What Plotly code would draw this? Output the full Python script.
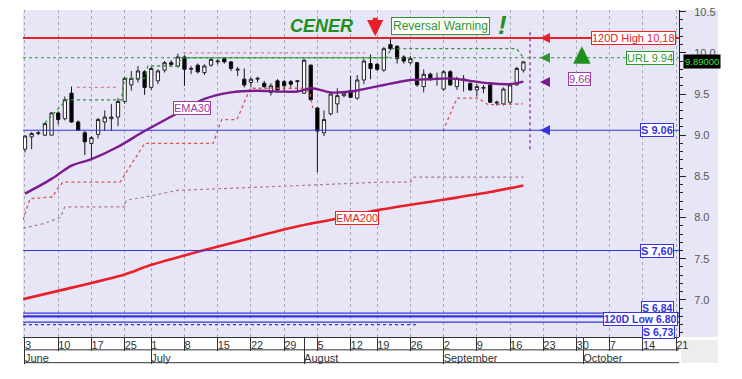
import plotly.graph_objects as go

# ---------------- data ----------------
idx = list(range(76))  # trading-day index, 0 = 3 June
opens = [8.83, 8.98, 9.02, 9.00, 9.00, 9.27, 9.20, 9.51, 9.16, 9.03,
         8.90, 9.01, 9.16, 9.20, 9.22, 9.41, 9.61, 9.68, 9.77, 9.58,
         9.66, 9.79, 9.88, 9.84, 9.95, 9.80, 9.85, 9.76, 9.85, 9.89,
         9.93, 9.89, 9.79, 9.68, 9.64, 9.68, 9.63, 9.52, 9.66, 9.65,
         9.65, 9.65, 9.51, 9.85, 9.33, 9.03, 9.26, 9.38, 9.48, 9.54,
         9.45, 9.67, 9.87, 9.86, 9.79, 10.10, 10.08, 9.95, 9.88, 9.88,
         9.59, 9.74, 9.68, 9.56, 9.77, 9.59, 9.67, 9.63, 9.55, 9.57,
         9.61, 9.39, 9.38, 9.40, 9.61, 9.79]
highs = [9.00, 9.04, 9.05, 9.15, 9.28, 9.29, 9.47, 9.59, 9.18, 9.05,
         8.99, 9.21, 9.30, 9.38, 9.45, 9.71, 9.78, 9.84, 9.79, 9.83,
         9.80, 9.90, 9.91, 9.99, 9.97, 9.84, 9.87, 9.86, 9.94, 9.92,
         9.95, 9.90, 9.83, 9.81, 9.70, 9.71, 9.66, 9.63, 9.68, 9.67,
         9.67, 9.67, 9.93, 9.86, 9.34, 9.30, 9.52, 9.57, 9.53, 9.72,
         9.73, 9.93, 9.98, 9.88, 10.07, 10.17, 10.09, 9.97, 9.96, 9.89,
         9.80, 9.76, 9.76, 9.79, 9.79, 9.71, 9.73, 9.64, 9.62, 9.61,
         9.62, 9.42, 9.58, 9.63, 9.83, 9.90]
lows = [8.79, 8.83, 9.00, 8.99, 9.00, 9.13, 9.18, 9.15, 9.05, 8.76,
        8.72, 8.96, 9.05, 9.05, 9.11, 9.38, 9.54, 9.64, 9.49, 9.55,
        9.62, 9.76, 9.83, 9.82, 9.60, 9.74, 9.75, 9.73, 9.83, 9.86,
        9.87, 9.78, 9.72, 9.58, 9.58, 9.64, 9.57, 9.48, 9.52, 9.53,
        9.58, 9.53, 9.50, 9.42, 8.55, 8.99, 9.24, 9.27, 9.46, 9.45,
        9.43, 9.62, 9.68, 9.78, 9.77, 10.03, 9.87, 9.87, 9.86, 9.59,
        9.52, 9.66, 9.60, 9.54, 9.60, 9.55, 9.53, 9.54, 9.47, 9.51,
        9.39, 9.36, 9.36, 9.37, 9.60, 9.76]
closes = [8.99, 9.02, 9.03, 9.14, 9.27, 9.19, 9.43, 9.16, 9.06, 8.92,
          8.97, 9.19, 9.22, 9.22, 9.41, 9.69, 9.69, 9.78, 9.58, 9.81,
          9.78, 9.88, 9.86, 9.95, 9.80, 9.81, 9.77, 9.84, 9.92, 9.90,
          9.89, 9.81, 9.80, 9.61, 9.68, 9.69, 9.59, 9.60, 9.55, 9.60,
          9.62, 9.66, 9.91, 9.43, 9.05, 9.19, 9.50, 9.48, 9.51, 9.46,
          9.67, 9.90, 9.81, 9.80, 10.05, 10.05, 9.93, 9.90, 9.93, 9.61,
          9.74, 9.69, 9.69, 9.77, 9.61, 9.69, 9.68, 9.55, 9.59, 9.58,
          9.40, 9.40, 9.56, 9.61, 9.81, 9.89]

ema30_idx = [0, 4, 7, 10, 14, 18, 23, 27, 31, 35, 38, 41, 42, 43, 44, 46, 49, 51, 54, 58, 61, 64, 67, 70, 73, 75]
ema30_val = [8.29, 8.47, 8.63, 8.71, 8.86, 9.05, 9.27, 9.44, 9.52, 9.54, 9.53, 9.53, 9.55, 9.57, 9.56, 9.52,
             9.53, 9.56, 9.61, 9.67, 9.68, 9.69, 9.66, 9.63, 9.62, 9.65]

ema200_idx = [-0.3, 5, 15, 18.8, 26.3, 33.9, 41.4, 45.9, 53.1, 63.2, 70, 75]
ema200_val = [7.01, 7.11, 7.31, 7.42, 7.59, 7.75, 7.90, 7.97, 8.09, 8.22, 8.31, 8.39]

stop_idx = [-0.3, 0.75, 4.2, 4.7, 5.7, 14.3, 18, 28.3, 29.6, 31.9, 33.9, 42.1, 42.9, 43.3, None,
            62.9, 65, 68.2, 69.7, 74.9]
stop_val = [7.97, 8.23, 8.25, 8.33, 8.43, 8.43, 8.90, 8.90, 9.19, 9.19, 9.57, 9.57, 9.51, 9.33, None,
            9.05, 9.45, 9.45, 9.37, 9.38]

upper_idx = [7.8, 14, None, 23.8, 51.2]
upper_val = [9.58, 9.58, None, 10.0, 10.0]

green_idx = [3, 6.3, 14.5, 15, 18, 18.5, 23, 23.5, 54.5, 55, 74, 75]
green_val = [9.15, 9.43, 9.43, 9.69, 9.69, 9.84, 9.84, 9.94, 9.94, 10.05, 10.05, 9.94]

lower_idx = [-0.3, 3, 5.3, 6, 15, 15.2, 18.8, 21.8, 22.9, 35.4, 53.7, 58, 58.5, 75]
lower_val = [7.87, 7.93, 8.00, 8.13, 8.13, 8.21, 8.26, 8.31, 8.33, 8.37, 8.43, 8.43, 8.49, 8.49]

blue_dot_idx = [-0.3, 59]
blue_dot_val = [6.70, 6.70]

week_idx = [0, 5, 10, 15, 19, 24, 29, 34, 39, 44, 49, 53, 58, 63, 68, 73, 78, 83, 88, 93, 98]
week_lbl = ["3", "10", "17", "25", "1", "8", "15", "22", "29", "5", "12", "19", "26",
            "2", "9", "16", "23", "30", "7", "14", "21"]
month_idx = [0, 19, 42, 63, 84]
month_lbl = ["June", "July", "August", "September", "October"]

y_ticks = [7.0, 7.5, 8.0, 8.5, 9.0, 9.5, 10.0, 10.5]

high120, url, ema30_last, s1, s2, s3, low120, s4 = 10.18, 9.94, 9.66, 9.06, 7.60, 6.84, 6.80, 6.73
last_price = 9.89

# ---------------- styling ----------------
BG = "#e6e6f7"
RED = "#e8202a"
BLUE = "#3434e0"
GREEN = "#2e962e"
PURPLE = "#7d1a8c"
FONT = "Arial, Liberation Sans, sans-serif"

X0, X1 = -0.3, 98.42
W, H = 742, 379
ML, MR, MT, MB = 23, 63, 6, 42
PW = W - ML - MR
PH = H - MT - MB

fig = go.Figure()

fig.add_trace(go.Candlestick(
    x=idx, open=opens, high=highs, low=lows, close=closes,
    increasing=dict(fillcolor="white", line=dict(color="#222222", width=1)),
    decreasing=dict(fillcolor="black", line=dict(color="#111111", width=1)),
    whiskerwidth=0, showlegend=False, hoverinfo="skip"))

def line(xs, ys, color, width, dash=None, shape="linear"):
    fig.add_trace(go.Scatter(x=xs, y=ys, mode="lines", showlegend=False, hoverinfo="skip",
                             connectgaps=False,
                             line=dict(color=color, width=width, dash=dash, shape=shape,
                                       smoothing=0.8 if shape == "spline" else None)))

line(lower_idx, lower_val, "#b07a8a", 1.2, "dot")
line(upper_idx, upper_val, "#e87a8a", 1.3, "dot")
line(stop_idx, stop_val, "#e05050", 1.3, "dot")
line(green_idx, green_val, GREEN, 1.3, "dot")
line(blue_dot_idx, blue_dot_val, BLUE, 1.3, "dot")
line(ema200_idx, ema200_val, RED, 2.6, shape="spline")
line(ema30_idx, ema30_val, PURPLE, 2.4, shape="spline")
line([76, 76], [8.83, 10.29], "#a04aa0", 1.6, "dot")

# level lines
for val, col, w, dash in [(high120, RED, 2.2, None), (url, GREEN, 1.2, "dot"), (s1, BLUE, 1.2, None),
                          (s2, BLUE, 1.2, None), (s3, BLUE, 1.2, None), (low120, BLUE, 2.2, None),
                          (s4, BLUE, 1.2, None)]:
    fig.add_trace(go.Scatter(x=[X0, X1], y=[val, val], mode="lines", showlegend=False, hoverinfo="skip",
                             line=dict(color=col, width=w, dash=dash)))

# dummy traces for extra x axes
for ax in ["x2", "x3", "x4"]:
    fig.add_trace(go.Scatter(x=[X0], y=[None], xaxis=ax, yaxis="y", mode="markers",
                             showlegend=False, hoverinfo="skip"))

sep_idx = sorted(set(week_idx) | set(month_idx))

fig.update_layout(
    width=W, height=H, autosize=False,
    margin=dict(l=ML, r=MR, t=MT, b=MB, pad=0),
    paper_bgcolor="white", plot_bgcolor=BG,
    font=dict(family=FONT, size=11, color="#333333"),
    showlegend=False,
    xaxis=dict(range=[X0, X1], tickmode="array", tickvals=week_idx, ticktext=week_lbl,
               ticks="", ticklabelposition="outside right", ticklabelshift=0,
               showgrid=True, gridcolor="#a8a8b8", griddash="dot", gridwidth=1,
               zeroline=False, showline=False, rangeslider=dict(visible=False),
               tickfont=dict(size=11, color="#333333")),
    xaxis2=dict(range=[X0, X1], overlaying="x", anchor="free", position=0,
                tickmode="array", tickvals=sep_idx, ticks="outside", ticklen=13,
                tickcolor="#333333", tickwidth=1, showticklabels=False, showgrid=False,
                zeroline=False, showline=True, linecolor="#333333", linewidth=1),
    xaxis3=dict(range=[X0, X1], overlaying="x", anchor="free", position=0,
                tickmode="array", tickvals=month_idx, ticks="outside", ticklen=26,
                tickcolor="#333333", tickwidth=1, showticklabels=False, showgrid=False,
                zeroline=False, showline=False),
    xaxis4=dict(range=[X0, X1], overlaying="x", anchor="free", position=0,
                tickmode="array", tickvals=month_idx, ticktext=month_lbl,
                ticks="", ticklabelstandoff=13,
                ticklabelposition="outside right", ticklabelshift=0,
                showgrid=False, zeroline=False, showline=False,
                tickfont=dict(size=11, color="#333333")),
    yaxis=dict(range=[6.55, 10.52], side="right", tickmode="array", tickvals=y_ticks,
               ticktext=[f"{v:.1f}" for v in y_ticks], ticks="outside", ticklen=6,
               tickcolor="#222222", showline=True, linecolor="#222222", linewidth=1,
               showgrid=False, zeroline=False, ticklabelstandoff=6,
               minor=dict(dtick=0.1, tick0=0, ticks="outside", ticklen=3, tickcolor="#222222", showgrid=False),
               tickfont=dict(size=11, color="#555555")),
)

# background of the right axis area + bottom-right grey box + table lines
fig.add_shape(type="rect", xref="paper", yref="paper", x0=1.0, x1=1 + 39 / PW, y0=0, y1=1,
              fillcolor=BG, line=dict(width=0), layer="below")
fig.add_shape(type="rect", xref="paper", yref="paper", x0=1 + 2 / PW, x1=1 + 39 / PW,
              y0=-26 / PH, y1=-3 / PH, fillcolor="#ededed", line=dict(width=0), layer="below")
for yy in [-13 / PH, -26 / PH]:
    fig.add_shape(type="line", xref="paper", yref="paper", x0=(25 - ML) / PW, x1=1, y0=yy, y1=yy,
                  line=dict(color="#333333", width=1))

# ---------------- annotations ----------------
def box(text, x, y, color, xref="paper", xanchor="right", yshift=0, bold=False, size=11,
        bg="white", fcolor=None):
    fig.add_annotation(x=x, y=y, xref=xref, yref="y", text=f"<b>{text}</b>" if bold else text,
                       showarrow=False, xanchor=xanchor, yanchor="middle", yshift=yshift,
                       font=dict(family=FONT, size=size, color=fcolor or color),
                       bgcolor=bg, bordercolor=color, borderwidth=1, borderpad=0)

xr = (676 - ML) / PW
box("120D High 10,18", xr, high120, RED)
box("URL 9.94", (674 - ML) / PW, url, GREEN)
box("S 9.06", (674 - ML) / PW, s1, BLUE, bold=True)
box("S 7,60", (674 - ML) / PW, s2, BLUE, bold=True)
box("S 6,84", (674 - ML) / PW, s3, BLUE, yshift=5.5, bold=True, size=10.5)
box("120D Low 6.80", (678 - ML) / PW, low120, BLUE, yshift=-3, bold=True, size=10.5)
box("S 6,73", (675 - ML) / PW, s4, BLUE, yshift=-9.5, bold=True, size=10.5)
box("9,66", 83.4, ema30_last, "#9a3aa6", xref="x", xanchor="center", yshift=1.5)
box("EMA30", 25.2, 9.325, "#9a3aa6", xref="x", xanchor="center")
box("EMA200", 50, 8.00, RED, xref="x", xanchor="center")
fig.add_annotation(x=(683 - ML) / PW, y=last_price, xref="paper", yref="y", text=f"{last_price:.5f}",
                   showarrow=False, xanchor="left", yanchor="middle",
                   font=dict(family=FONT, size=9.5, color="#3ee03e"),
                   bgcolor="black", borderpad=1)

fig.add_annotation(x=44.6, y=10.33, xref="x", yref="y", text="<b><i>CENER</i></b>", showarrow=False,
                   font=dict(family=FONT, size=18, color="#1f8f1f"))
fig.add_annotation(x=62.5, y=10.32, xref="x", yref="y", text="Reversal Warning", showarrow=False,
                   font=dict(family=FONT, size=12, color=GREEN), bgcolor="white",
                   bordercolor=GREEN, borderwidth=1, borderpad=1)
fig.add_annotation(x=71.9, y=10.34, xref="x", yref="y", text="<b><i>!</i></b>", showarrow=False,
                   font=dict(family=FONT, size=26, color="#1f8f1f"))

# big arrows
fig.add_annotation(x=52.7, y=10.20, xref="x", yref="y", ax=0, ay=-20, text="", showarrow=True,
                   arrowhead=2, arrowsize=0.65, arrowwidth=5, arrowcolor=RED)
fig.add_annotation(x=83.8, y=10.08, xref="x", yref="y", ax=0, ay=16, text="", showarrow=True,
                   arrowhead=2, arrowsize=0.7, arrowwidth=5, arrowcolor="#1f8f1f")
# small left arrows
for val, col in [(high120, RED), (url, GREEN), (9.645, PURPLE), (s1, BLUE)]:
    fig.add_annotation(x=77.5, y=val, xref="x", yref="y", ax=11, ay=0, text="", showarrow=True,
                       arrowhead=2, arrowsize=1, arrowwidth=2, arrowcolor=col)

fig.write_html("out.html")
